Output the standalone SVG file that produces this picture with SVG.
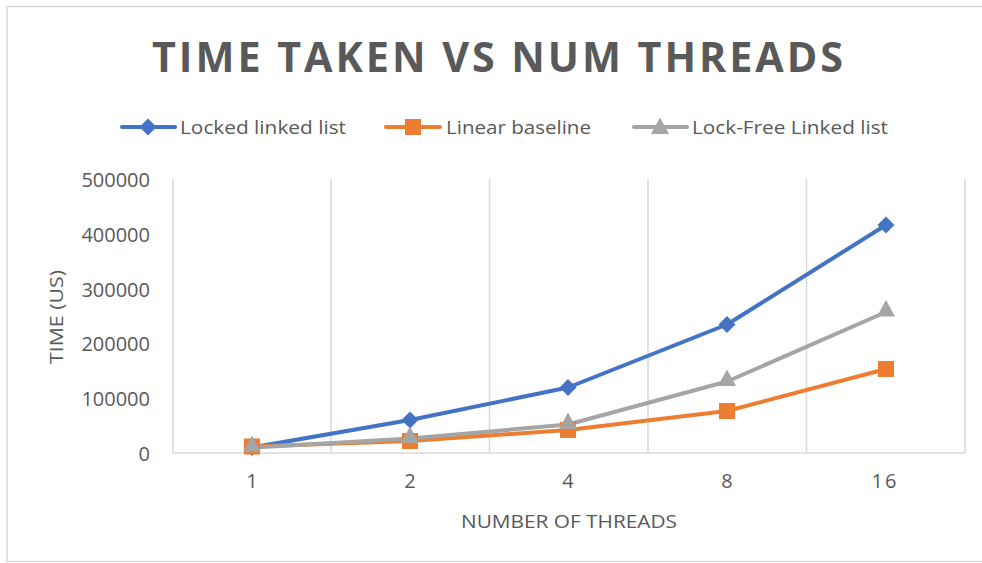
<svg xmlns="http://www.w3.org/2000/svg" xmlns:xlink="http://www.w3.org/1999/xlink" width="982" height="563" viewBox="0 0 982 563">
  <style>
    .txt { font-family: "Open Sans", "Liberation Sans", sans-serif; fill: #595959; }
    .title { font-size: 42px; font-weight: bold; letter-spacing: 3px; }
    .tick { font-size: 20px; }
    .axis-title { font-size: 19px; }
    .legend { font-size: 19px; }
    .grid { stroke: #d9d9d9; stroke-width: 1.5; fill: none; }
    .s-blue { stroke: #4472c4; stroke-width: 4; fill: none; stroke-linejoin: round; stroke-linecap: round; }
    .s-orange { stroke: #ed7d31; stroke-width: 4; fill: none; stroke-linejoin: round; stroke-linecap: round; }
    .s-gray { stroke: #a5a5a5; stroke-width: 4; fill: none; stroke-linejoin: round; stroke-linecap: round; }
  </style>
  <defs>
    <polygon id="diamond" points="0,-8.5 8.5,0 0,8.5 -8.5,0" fill="#4472c4"/>
    <rect id="square" x="-8" y="-8" width="16" height="16" fill="#ed7d31"/>
    <polygon id="triangle" points="0,-9.5 9,7 -9,7" fill="#a5a5a5"/>
  </defs>

  <!-- chart frame -->
  <rect x="7" y="6.5" width="990" height="555" fill="#ffffff" stroke="#d9d9d9" stroke-width="1.5"/>

  <!-- title -->
  <text class="txt title" x="499" y="72" text-anchor="middle" textLength="694" lengthAdjust="spacingAndGlyphs">TIME TAKEN VS NUM THREADS</text>

  <!-- legend -->
  <g id="legend">
    <g id="legend-locked">
      <line class="s-blue" x1="122" y1="127" x2="175" y2="127"/>
      <use xlink:href="#diamond" x="148" y="127"/>
      <text class="txt legend" x="180" y="134" textLength="166" lengthAdjust="spacingAndGlyphs">Locked linked list</text>
    </g>
    <g id="legend-linear">
      <line class="s-orange" x1="386" y1="127" x2="440" y2="127"/>
      <use xlink:href="#square" x="413" y="127"/>
      <text class="txt legend" x="446" y="134" textLength="145" lengthAdjust="spacingAndGlyphs">Linear baseline</text>
    </g>
    <g id="legend-lockfree">
      <line class="s-gray" x1="634" y1="127" x2="687" y2="127"/>
      <use xlink:href="#triangle" x="660" y="127"/>
      <text class="txt legend" x="692" y="134" textLength="196" lengthAdjust="spacingAndGlyphs">Lock-Free Linked list</text>
    </g>
  </g>

  <!-- plot area grid -->
  <g id="grid">
    <line class="grid" x1="173" y1="179" x2="173" y2="453"/>
    <line class="grid" x1="331" y1="179" x2="331" y2="453"/>
    <line class="grid" x1="489.5" y1="179" x2="489.5" y2="453"/>
    <line class="grid" x1="648" y1="179" x2="648" y2="453"/>
    <line class="grid" x1="806.5" y1="179" x2="806.5" y2="453"/>
    <line class="grid" x1="965" y1="179" x2="965" y2="453"/>
    <line class="grid" x1="173" y1="453" x2="965" y2="453"/>
  </g>

  <!-- value axis labels -->
  <g id="y-axis">
    <text class="txt tick" x="150" y="187" text-anchor="end">500000</text>
    <text class="txt tick" x="150" y="242" text-anchor="end">400000</text>
    <text class="txt tick" x="150" y="297" text-anchor="end">300000</text>
    <text class="txt tick" x="150" y="351" text-anchor="end">200000</text>
    <text class="txt tick" x="150" y="406" text-anchor="end">100000</text>
    <text class="txt tick" x="150" y="461" text-anchor="end">0</text>
    <text class="txt axis-title" transform="translate(63,317) rotate(-90)" text-anchor="middle" textLength="94" lengthAdjust="spacingAndGlyphs">TIME (US)</text>
  </g>

  <!-- category axis labels -->
  <g id="x-axis">
    <text class="txt tick" x="252" y="488" text-anchor="middle">1</text>
    <text class="txt tick" x="410" y="488" text-anchor="middle">2</text>
    <text class="txt tick" x="568" y="488" text-anchor="middle">4</text>
    <text class="txt tick" x="727" y="488" text-anchor="middle">8</text>
    <text class="txt tick" x="885" y="488" text-anchor="middle" letter-spacing="2">16</text>
    <text class="txt axis-title" x="569" y="528" text-anchor="middle" textLength="216" lengthAdjust="spacingAndGlyphs">NUMBER OF THREADS</text>
  </g>

  <!-- data series -->
  <g id="connectors">
    <polyline id="line-locked" class="s-blue" points="252,447.5 410,420 568,387.5 727,324.5 886,225"/>
    <polyline id="line-linear" class="s-orange" points="252,446.5 410,441 568,430 727,411 886,369"/>
    <polyline id="line-lockfree" class="s-gray" points="252,447.5 410,438.5 568,424.5 727,381.5 886,312"/>
  </g>

  <g id="series-locked">
    <use xlink:href="#diamond" x="252" y="447.5"/>
    <use xlink:href="#diamond" x="410" y="420"/>
    <use xlink:href="#diamond" x="568" y="387.5"/>
    <use xlink:href="#diamond" x="727" y="324.5"/>
    <use xlink:href="#diamond" x="886" y="225"/>
  </g>
  <g id="series-linear">
    <use xlink:href="#square" x="252" y="446.5"/>
    <use xlink:href="#square" x="410" y="441"/>
    <use xlink:href="#square" x="568" y="430"/>
    <use xlink:href="#square" x="727" y="411"/>
    <use xlink:href="#square" x="886" y="369"/>
  </g>
  <g id="series-lockfree">
    <use xlink:href="#triangle" x="252" y="445"/>
    <use xlink:href="#triangle" x="410" y="436"/>
    <use xlink:href="#triangle" x="568" y="422"/>
    <use xlink:href="#triangle" x="727" y="379"/>
    <use xlink:href="#triangle" x="886" y="309.5"/>
  </g>
</svg>
